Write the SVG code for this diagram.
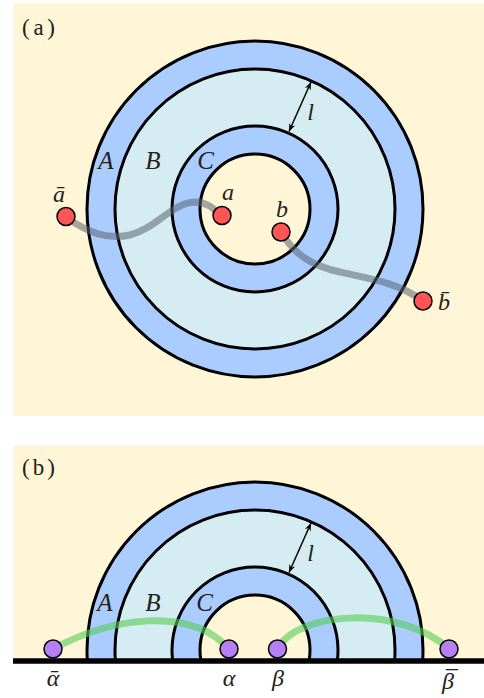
<svg xmlns="http://www.w3.org/2000/svg" width="484" height="698" viewBox="0 0 484 698">
<defs>
<style>
.bg{fill:#fff5d7}
.ringA{fill:#aaccff;stroke:#000;stroke-width:3}
.ringB{fill:#d5edf2;stroke:#000;stroke-width:3}
.hole{fill:#fff5d7;stroke:#000;stroke-width:3}
.lbl{font-size:23px;fill:#222}
.m{font-style:italic;font-size:24px;fill:#222;text-anchor:middle}
.big{font-size:25px}
.red{fill:#ff5555;stroke:#000;stroke-width:1.5}
.pur{fill:#b77ff5;stroke:#000;stroke-width:1.5}
.gray{fill:none;stroke:#5a6470;stroke-opacity:0.55;stroke-width:7;stroke-linecap:round}
.green{fill:none;stroke:#55cc55;stroke-opacity:0.6;stroke-width:7;stroke-linecap:round}
.arr{stroke:#000;stroke-width:1.5;marker-start:url(#ah);marker-end:url(#ah)}
</style>
<marker id="ah" viewBox="0 0 10 10" refX="10" refY="5" markerWidth="8" markerHeight="8" markerUnits="userSpaceOnUse" orient="auto-start-reverse">
<path d="M0,1 L10,5 L0,9 L3,5 z" fill="#000"/>
</marker>
<clipPath id="half"><rect x="0" y="0" width="484" height="659"/></clipPath>
</defs>

<g id="panel-a" font-family="Liberation Serif, Times New Roman, serif">
<rect class="bg" x="13" y="3" width="471" height="413"/>
<text class="lbl" x="22" y="35" textLength="33">(a)</text>
<g id="rings-a">
<circle class="ringA" cx="255" cy="209" r="168"/>
<circle class="ringB" cx="255" cy="209" r="140"/>
<circle class="ringA" cx="255" cy="209" r="83"/>
<circle class="hole" cx="255" cy="209" r="55"/>
</g>
<g id="labels-a">
<text class="m big" x="106" y="169">A</text>
<text class="m big" x="153" y="169">B</text>
<text class="m big" x="205.5" y="169">C</text>
<text class="m" x="310.5" y="120">l</text>
</g>
<g id="connectors-a">
<path class="gray" d="M66,217 C88,233 108,240 130,235 C155,229 172,203 195,202 C207,202 214,209 222,216"/>
<path class="gray" d="M281,232 C293,252 308,265 340,272 C378,280 402,285 423,301"/>
<line class="arr" x1="311" y1="82" x2="289" y2="131.5"/>
</g>
<g id="node-abar"><circle class="red" cx="66" cy="216.5" r="9"/><text class="m" x="59" y="202">ā</text></g>
<g id="node-a"><circle class="red" cx="222" cy="215.5" r="9"/><text class="m" x="228" y="200">a</text></g>
<g id="node-b"><circle class="red" cx="281" cy="232" r="9"/><text class="m" x="282" y="217">b</text></g>
<g id="node-bbar"><circle class="red" cx="423" cy="301" r="9"/><text class="m" x="444" y="310">b̄</text></g>
</g>

<g id="panel-b" font-family="Liberation Serif, Times New Roman, serif">
<rect class="bg" x="13" y="445" width="471" height="215"/>
<text class="lbl" x="22" y="475" textLength="33">(b)</text>
<g id="rings-b" clip-path="url(#half)">
<circle class="ringA" cx="255" cy="650" r="168"/>
<circle class="ringB" cx="255" cy="650" r="140"/>
<circle class="ringA" cx="255" cy="650" r="83"/>
<circle class="hole" cx="255" cy="650" r="55"/>
</g>
<line x1="13" y1="661" x2="484" y2="661" stroke="#000" stroke-width="5.5"/>
<g id="labels-b">
<text class="m big" x="105" y="611">A</text>
<text class="m big" x="153" y="611">B</text>
<text class="m big" x="204.5" y="611">C</text>
<text class="m" x="310.5" y="561">l</text>
</g>
<g id="connectors-b">
<path class="green" d="M53,649 C110,618 190,605 229,649"/>
<path class="green" d="M277,649 C300,610 400,605 449,649"/>
<line class="arr" x1="311" y1="523" x2="289" y2="572.5"/>
</g>
<g id="node-alphabar"><circle class="pur" cx="53" cy="649" r="9"/><text class="m" x="53" y="686">ᾱ</text></g>
<g id="node-alpha"><circle class="pur" cx="229" cy="649" r="9"/><text class="m" x="229" y="686">α</text></g>
<g id="node-beta"><circle class="pur" cx="277.5" cy="649" r="9"/><text class="m" x="278" y="686">β</text></g>
<g id="node-betabar"><circle class="pur" cx="449" cy="649" r="9"/><text class="m" x="449" y="689"><tspan>β</tspan><tspan dx="-10" dy="-2">¯</tspan></text></g>
</g>
</svg>
